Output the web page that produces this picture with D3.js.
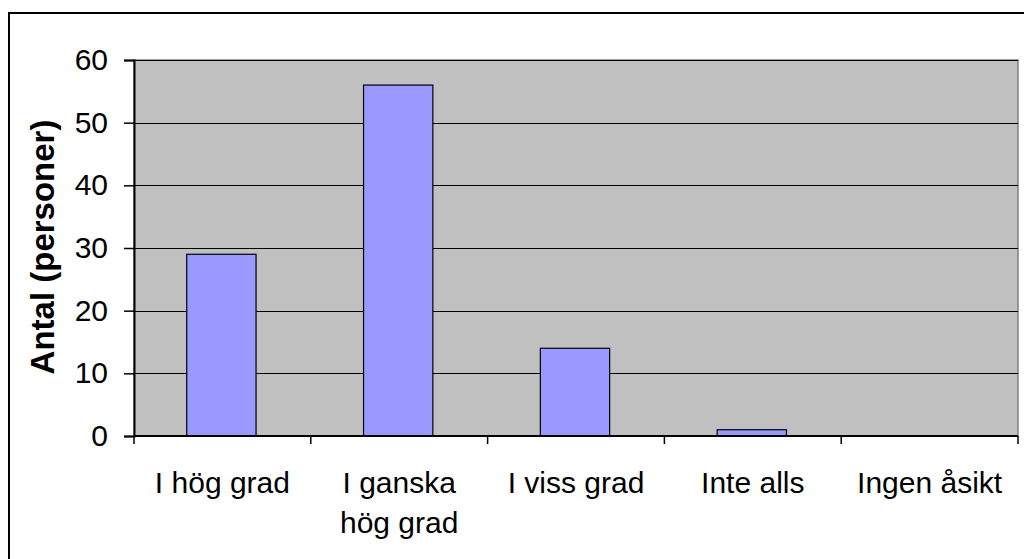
<!DOCTYPE html>
<html>
<head>
<meta charset="utf-8">
<script src="https://cdn.jsdelivr.net/npm/d3@7"></script>
<style>
  body { margin: 0; background: #fff; }
  text { font-family: "Liberation Sans", Arial, sans-serif; fill: #000; }
</style>
</head>
<body>
<script>
// Data
const categories = [["I hög grad"], ["I ganska", "hög grad"], ["I viss grad"], ["Inte alls"], ["Ingen åsikt"]];
const values = [29, 56, 14, 1, 0];
const yTicks = [0, 10, 20, 30, 40, 50, 60];
const yLabel = "Antal (personer)";

const W = 1024, H = 559;
const plot = { left: 134, top: 60, right: 1018, bottom: 436 };

const svg = d3.select("body").append("svg")
  .attr("width", W)
  .attr("height", H);

// outer chart border (runs off the right/bottom edge)
svg.append("rect")
  .attr("x", 9).attr("y", 13)
  .attr("width", W + 20).attr("height", H + 20)
  .attr("fill", "#fff")
  .attr("stroke", "#000")
  .attr("stroke-width", 2);

const x = d3.scaleBand()
  .domain(d3.range(categories.length))
  .range([plot.left, plot.right])
  .padding(0);

const y = d3.scaleLinear()
  .domain([0, 60])
  .range([plot.bottom, plot.top]);

// plot area background
svg.append("rect")
  .attr("x", plot.left).attr("y", plot.top)
  .attr("width", plot.right - plot.left)
  .attr("height", plot.bottom - plot.top)
  .attr("fill", "#C0C0C0")
  .attr("stroke", "#808080")
  .attr("stroke-width", 1.5);

// gridlines
svg.append("g")
  .selectAll("line")
  .data(yTicks.filter(d => d > 0))
  .join("line")
  .attr("x1", plot.left).attr("x2", plot.right)
  .attr("y1", d => Math.round(y(d)) + 0.5)
  .attr("y2", d => Math.round(y(d)) + 0.5)
  .attr("stroke", "#000")
  .attr("stroke-width", 1);

// bars
const barW = x.bandwidth() * 0.392;
svg.append("g")
  .selectAll("rect")
  .data(values)
  .join("rect")
  .attr("x", (d, i) => x(i) + x.bandwidth() / 2 - barW / 2 - 1)
  .attr("y", d => y(d))
  .attr("width", barW)
  .attr("height", d => y(0) - y(d))
  .attr("fill", "#9999FF")
  .attr("stroke", "#000")
  .attr("stroke-width", 1.2);

// y axis
const yAxis = svg.append("g")
  .attr("transform", "translate(" + plot.left + ",0)")
  .call(d3.axisLeft(y).tickValues(yTicks).tickSize(10).tickPadding(16));
yAxis.select(".domain").attr("stroke", "#000").attr("stroke-width", 2);
yAxis.selectAll(".tick line").attr("stroke", "#000").attr("stroke-width", 1.5);
yAxis.selectAll(".tick text")
  .style("font-family", "'Liberation Sans', Arial, sans-serif")
  .style("font-size", "30px")
  .attr("fill", "#000");

// x axis line and ticks at category boundaries
svg.append("line")
  .attr("x1", plot.left).attr("x2", plot.right)
  .attr("y1", plot.bottom).attr("y2", plot.bottom)
  .attr("stroke", "#000").attr("stroke-width", 2);

svg.append("g")
  .selectAll("line")
  .data(d3.range(categories.length + 1))
  .join("line")
  .attr("x1", i => plot.left + i * x.step())
  .attr("x2", i => plot.left + i * x.step())
  .attr("y1", plot.bottom).attr("y2", plot.bottom + 8)
  .attr("stroke", "#000").attr("stroke-width", 1.5);

// category labels
const labels = svg.append("g")
  .selectAll("text")
  .data(categories)
  .join("text")
  .attr("x", (d, i) => x(i) + x.bandwidth() / 2)
  .attr("y", 493)
  .attr("text-anchor", "middle")
  .style("font-size", "30px");

labels.selectAll("tspan")
  .data(d => d)
  .join("tspan")
  .attr("x", function() { return d3.select(this.parentNode).attr("x"); })
  .attr("dy", (d, i) => i === 0 ? 0 : 40)
  .text(d => d);

// y axis title
svg.append("text")
  .attr("transform", "translate(54," + 247 + ") rotate(-90)")
  .attr("text-anchor", "middle")
  .style("font-size", "33px")
  .style("font-weight", "bold")
  .text(yLabel);
</script>
</body>
</html>
